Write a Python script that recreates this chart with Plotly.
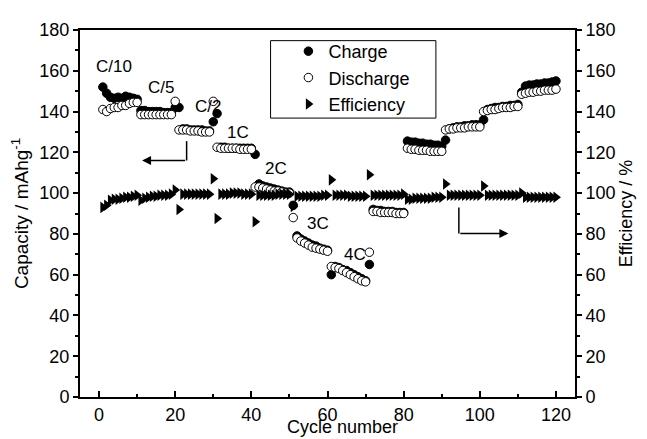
import plotly.graph_objects as go

cycles = list(range(1, 121))

charge = [
    152, 149, 147, 146.5, 147, 146.5, 147.5, 147, 146.5, 146,      # C/10 1-10
    140.5, 140.5, 140, 140, 140, 140, 139.5, 139.5, 139.5, 142,    # C/5 11-20
    142, 131.5, 131.5, 131, 131, 131, 131, 130.5, 130.5, 135,      # C/2 21-30
    139, 122.5, 122.5, 122, 122, 122, 122, 122, 122, 122,          # 1C 31-40
    119, 104.5, 103.5, 103, 102.5, 102, 101.5, 101, 100.5, 100.5,  # 2C 41-50
    94, 79, 77.5, 76.5, 75.5, 74.5, 74, 73, 72.5, 72,              # 3C 51-60
    60, 64, 63.5, 62.5, 62, 61, 60, 59, 58, 57,                    # 4C 61-70
    65, 92, 91.5, 91.5, 91, 91, 91, 90.5, 90.5, 90.5,              # 71-80
    125.5, 125, 125, 124.5, 124.5, 124, 124, 123.5, 123.5, 123,    # 81-90
    126, 131.5, 132, 132.5, 132.5, 133, 133, 133.5, 133.5, 133.5,  # 91-100
    136, 141, 141.5, 142, 142, 142.5, 142.5, 143, 143, 143.5,      # 101-110
    149.5, 152.5, 153, 153, 153.5, 153.5, 154, 154, 154.5, 155,    # 111-120
]

discharge = [
    141, 140, 141.5, 142, 142, 143, 143, 144, 144.5, 144.5,        # 1-10
    138.5, 138.5, 138.5, 138.5, 138.5, 138.5, 138.5, 138.5, 138.5, 145,  # 11-20
    131, 131, 131, 130.5, 130.5, 130.5, 130, 130, 130, 145,        # 21-30
    122.5, 122, 122, 122, 122, 122, 121.5, 121.5, 121.5, 121.5,    # 31-40
    103, 103, 102.5, 102, 101.5, 101, 101, 100.5, 100, 100,        # 41-50
    88, 78, 76.5, 75.5, 74.5, 73.5, 73, 72.5, 72, 71.5,            # 51-60
    64, 63.5, 63, 62, 61, 60, 59, 58, 57, 56.5,                    # 61-70
    71, 91, 91, 90.5, 90.5, 90.5, 90.5, 90, 90, 90,                # 71-80
    122, 121.5, 121.5, 121, 121, 121, 120.5, 120.5, 120.5, 120.5,  # 81-90
    131, 131.5, 131.5, 132, 132, 132, 132.5, 132.5, 132.5, 132.5,  # 91-100
    140, 140.5, 141, 141, 141.5, 142, 142, 142, 142.5, 142.5,      # 101-110
    148.5, 149, 149.5, 149.5, 150, 150, 150.5, 150.5, 150.5, 151,  # 111-120
]

efficiency = [
    93, 94, 96.5, 97, 97, 97.5, 98, 98, 98.5, 99,                  # 1-10
    96.5, 97.5, 98, 98.5, 98.5, 99, 99, 99, 99.5, 101.5,           # 11-20
    92, 99.5, 99.5, 99.5, 99.5, 99.5, 99.5, 99.5, 99.5, 107,       # 21-30
    87.5, 99.5, 99.5, 99.5, 100, 100, 100, 99.5, 99.5, 99.5,       # 31-40
    86, 99, 99, 99, 99, 99, 99.5, 99.5, 99.5, 99.5,                # 41-50
    93.5, 98.5, 98.5, 98.5, 98.5, 98.5, 98.5, 98.5, 99, 99,        # 51-60
    106.5, 99, 99, 99, 99, 98.5, 98.5, 98.5, 98.5, 98.5,           # 61-70
    109, 99, 99, 99, 99, 99, 99, 99, 99, 99.5,                     # 71-80
    97, 97, 97.5, 97.5, 97.5, 97.5, 97.5, 98, 98, 98,              # 81-90
    104.5, 99, 99, 99, 99, 99, 99, 99, 99, 99,                     # 91-100
    103.5, 99, 99, 99, 99, 99, 99, 99, 99, 99,                     # 101-110
    100, 98, 98, 98, 98, 98, 98, 98, 98, 98,                       # 111-120
]

rate_labels = ["C/10", "C/5", "C/2", "1C", "2C", "3C", "4C"]
rate_label_x = [4.0, 16.3, 28.5, 36.5, 46.6, 57.5, 67.3]
rate_label_y = [162, 152, 142.5, 129.5, 112, 85, 70]

x_ticks = [0, 20, 40, 60, 80, 100, 120]
y_ticks = [0, 20, 40, 60, 80, 100, 120, 140, 160, 180]

FONT = "Liberation Sans, Arial, sans-serif"

fig = go.Figure()
fig.add_trace(go.Scatter(
    x=cycles, y=charge, mode="markers", name="Charge",
    marker=dict(symbol="circle", size=8.5, color="black",
                line=dict(color="black", width=1)),
))
fig.add_trace(go.Scatter(
    x=cycles, y=discharge, mode="markers", name="Discharge",
    marker=dict(symbol="circle", size=8.5, color="white",
                line=dict(color="black", width=1)),
))
fig.add_trace(go.Scatter(
    x=cycles, y=efficiency, mode="markers", name="Efficiency", yaxis="y2",
    marker=dict(symbol="triangle-right", size=10, color="black",
                line=dict(color="black", width=0)),
))

for t, xx, yy in zip(rate_labels, rate_label_x, rate_label_y):
    fig.add_annotation(x=xx, y=yy, text=t, showarrow=False,
                       font=dict(family=FONT, size=17, color="black"))

# direction arrows
fig.add_shape(type="line", x0=23, x1=23, y0=125.5, y1=116,
              line=dict(color="black", width=1.5))
fig.add_annotation(x=11.3, y=116, ax=23, ay=116, axref="x", ayref="y",
                   xref="x", yref="y", text="", showarrow=True,
                   arrowhead=2, arrowsize=1.2, arrowwidth=1.5, arrowcolor="black")
fig.add_shape(type="line", x0=94.5, x1=94.5, y0=93, y1=80.2,
              line=dict(color="black", width=1.5))
fig.add_annotation(x=107.5, y=80.2, ax=94.5, ay=80.2, axref="x", ayref="y",
                   xref="x", yref="y", text="", showarrow=True,
                   arrowhead=2, arrowsize=1.2, arrowwidth=1.5, arrowcolor="black")

# legend frame
fig.add_shape(type="rect", xref="paper", yref="paper",
              x0=0.385, x1=0.719, y0=0.76, y1=0.971,
              line=dict(color="black", width=1), fillcolor="white", layer="below")

# x axis title
fig.add_annotation(xref="paper", yref="paper", x=0.53, y=-0.112,
                   text="Cycle number", showarrow=False,
                   xanchor="center", yanchor="bottom", borderpad=0,
                   font=dict(family=FONT, size=18, color="black"))

tick_font = dict(family=FONT, size=18, color="black")
# page body keeps an 8px default margin, so the figure is sized to fit the 647x439 window
fig.update_layout(
    width=639, height=431,
    margin=dict(l=68, r=72, t=14, b=42),
    paper_bgcolor="white", plot_bgcolor="white",
    font=dict(family=FONT, color="black"),
    showlegend=True,
    legend=dict(x=0.421, y=0.992, xanchor="left", yanchor="top",
                borderwidth=0, bgcolor="rgba(0,0,0,0)",
                font=dict(family=FONT, size=18, color="black"),
                tracegroupgap=0, itemwidth=30),
    xaxis=dict(
        range=[-5, 125], tickvals=x_ticks, ticks="inside", ticklen=6,
        tickwidth=1.5, tickcolor="black",
        minor=dict(dtick=10, tick0=0, ticks="inside", ticklen=3, tickcolor="black"),
        showline=True, linecolor="black", linewidth=2, mirror=True,
        showgrid=False, zeroline=False,
        tickfont=tick_font,
    ),
    yaxis=dict(
        range=[0, 180], tickvals=y_ticks, ticks="outside", ticklen=5,
        tickwidth=1.5, tickcolor="black",
        minor=dict(dtick=10, tick0=0, ticks="outside", ticklen=3, tickcolor="black"),
        showline=True, linecolor="black", linewidth=2,
        showgrid=False, zeroline=False,
        tickfont=tick_font,
        title=dict(text="Capacity / mAhg<sup>-1</sup>",
                   font=dict(family=FONT, size=19, color="black"), standoff=6),
    ),
    yaxis2=dict(
        range=[0, 180], tickvals=y_ticks, ticks="outside", ticklen=5,
        tickwidth=1.5, tickcolor="black",
        minor=dict(dtick=10, tick0=0, ticks="outside", ticklen=3, tickcolor="black"),
        overlaying="y", side="right",
        showline=True, linecolor="black", linewidth=2,
        showgrid=False, zeroline=False,
        tickfont=tick_font,
        title=dict(text="Efficiency / %",
                   font=dict(family=FONT, size=18, color="black"), standoff=5),
    ),
)

fig.write_html("out.html")
